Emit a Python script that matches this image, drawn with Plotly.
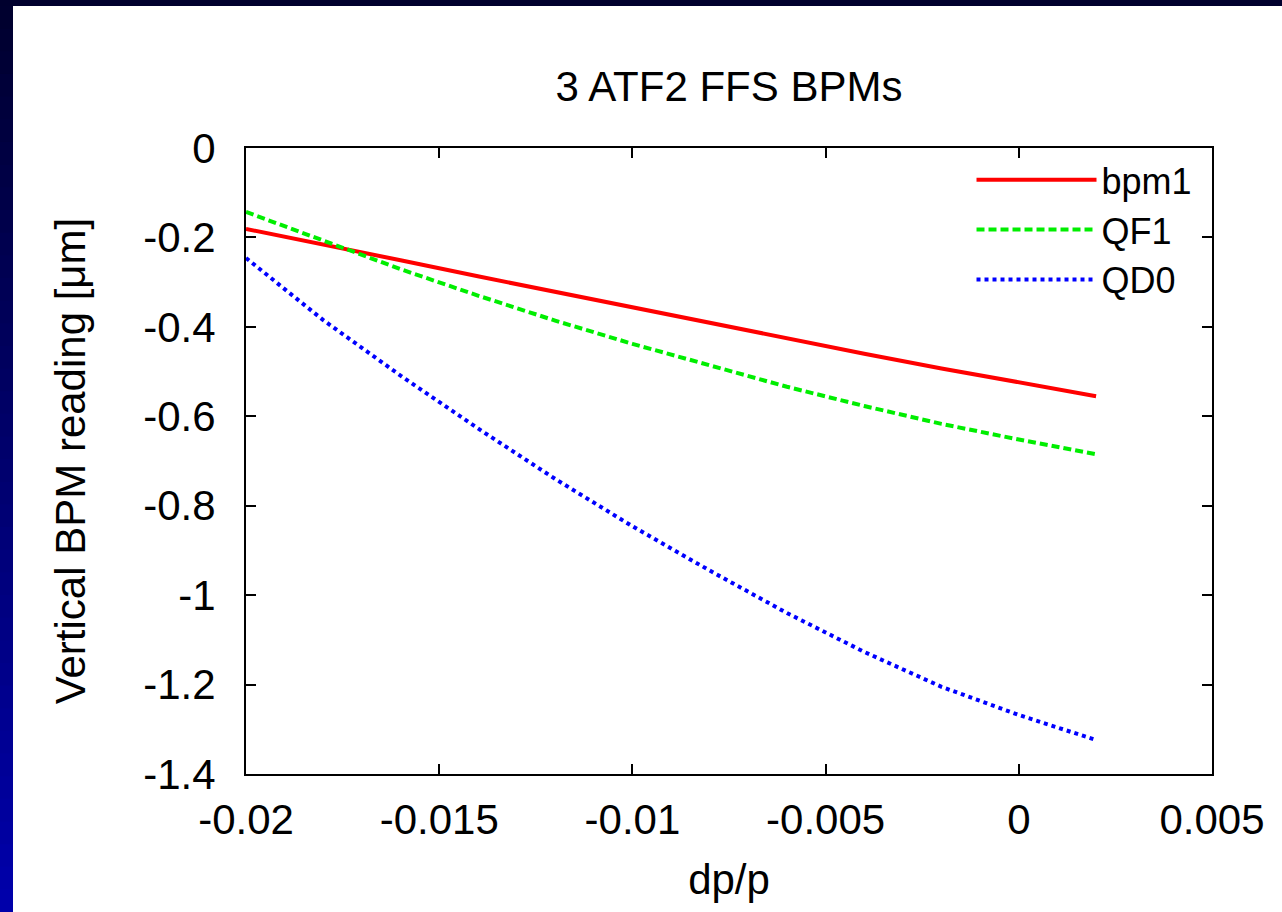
import plotly.graph_objects as go

# ---- data ----
dp = [-0.020, -0.018, -0.016, -0.014, -0.012, -0.010, -0.008, -0.006, -0.004, -0.002, 0.000, 0.002]
bpm1 = [-0.181, -0.215, -0.251, -0.287, -0.322, -0.357, -0.392, -0.426, -0.460, -0.493, -0.524, -0.555]
qf1 = [-0.143, -0.208, -0.271, -0.330, -0.386, -0.438, -0.487, -0.534, -0.577, -0.617, -0.652, -0.685]
qd0 = [-0.246, -0.385, -0.509, -0.627, -0.740, -0.846, -0.945, -1.040, -1.127, -1.205, -1.268, -1.324]

xtick_vals = [-0.02, -0.015, -0.01, -0.005, 0, 0.005]
xtick_text = ["-0.02", "-0.015", "-0.01", "-0.005", "0", "0.005"]
ytick_vals = [0, -0.2, -0.4, -0.6, -0.8, -1.0, -1.2, -1.4]
ytick_text = ["0", "-0.2", "-0.4", "-0.6", "-0.8", "-1", "-1.2", "-1.4"]

W, H = 1282, 912
L, R, T, B = 246, 70, 148, 138
FONT = "Liberation Sans, Arial, sans-serif"
FS = 42

fig = go.Figure()
fig.add_trace(go.Scatter(x=dp, y=bpm1, mode="lines", name="bpm1",
                         line=dict(color="#ff0000", width=4)))
fig.add_trace(go.Scatter(x=dp, y=qf1, mode="lines", name="QF1",
                         line=dict(color="#00ee00", width=4, dash="8px,4px")))
fig.add_trace(go.Scatter(x=dp, y=qd0, mode="lines", name="QD0",
                         line=dict(color="#0000ff", width=4, dash="4px,4px")))

# background frame (dark blue slide border with vertical gradient on the left)
pw, ph = W - L - R, H - T - B
def px2x(px):
    return (px - L) / pw
def py2y(py):
    return (H - B - py) / ph

shapes = []
shapes.append(dict(type="rect", xref="paper", yref="paper", layer="below",
                   x0=px2x(0), x1=px2x(W), y0=py2y(6), y1=py2y(0),
                   fillcolor="rgb(0,0,46)", line=dict(width=0)))
N = 40
for i in range(N):
    ya, yb = 6 + (H - 6) * i / N, 6 + (H - 6) * (i + 1) / N + 1
    f = (i + 0.5) / N
    c = f"rgb(0,0,{int(46 + f * (172 - 46))})"
    shapes.append(dict(type="rect", xref="paper", yref="paper", layer="below",
                       x0=px2x(0), x1=px2x(13), y0=py2y(yb), y1=py2y(ya),
                       fillcolor=c, line=dict(width=0)))

axis_common = dict(showline=True, linecolor="black", linewidth=2, mirror="allticks",
                   ticks="inside", ticklen=10, tickwidth=1.5, tickcolor="black",
                   showgrid=False, zeroline=False,
                   tickfont=dict(family=FONT, size=FS, color="black"))

fig.update_layout(
    width=W, height=H,
    margin=dict(l=L, r=R, t=T, b=B, pad=0),
    paper_bgcolor="white", plot_bgcolor="white",
    font=dict(family=FONT, size=FS, color="black"),
    title=dict(text="3 ATF2 FFS BPMs", x=(L + pw / 2) / W, xanchor="center",
               y=1 - 86 / H, yanchor="middle", font=dict(family=FONT, size=FS)),
    xaxis=dict(range=[-0.02, 0.005], tickvals=xtick_vals, ticktext=xtick_text,
               ticklabelstandoff=8,
               title=dict(text="dp/p", standoff=22, font=dict(family=FONT, size=FS)),
               **axis_common),
    yaxis=dict(range=[-1.4, 0], tickvals=ytick_vals, ticktext=ytick_text,
               ticklabelstandoff=20,
               title=dict(text="Vertical BPM reading [μm]", standoff=45,
                          font=dict(family=FONT, size=FS)),
               **axis_common),
    legend=dict(x=0.985, y=0.997, xanchor="right", yanchor="top",
                bgcolor="rgba(0,0,0,0)", borderwidth=0,
                font=dict(family=FONT, size=36), itemwidth=120,
                tracegroupgap=0),
    shapes=shapes,
)

fig.write_html("out.html")
